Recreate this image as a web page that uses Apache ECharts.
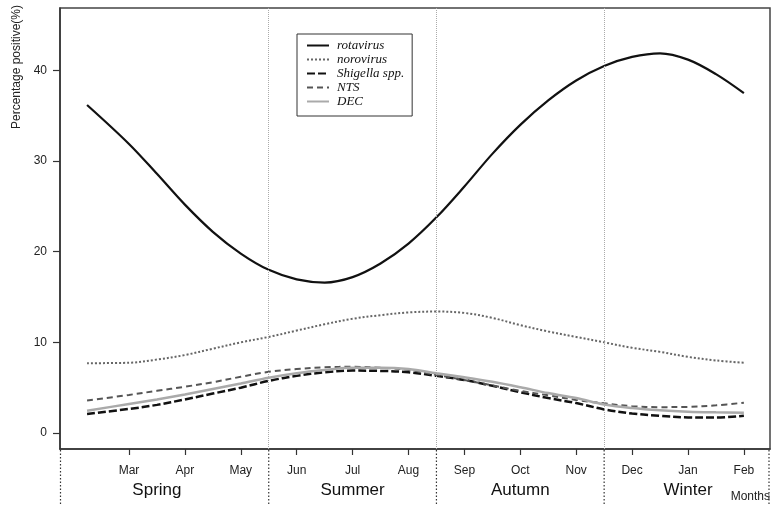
<!DOCTYPE html>
<html><head><meta charset="utf-8">
<script src="https://cdn.jsdelivr.net/npm/echarts@6/dist/echarts.min.js"></script>
<style>html,body{margin:0;padding:0;background:#fff}#c{width:771px;height:506px}</style>
</head><body><div id="c"></div><script>
const months = ['Mar','Apr','May','Jun','Jul','Aug','Sep','Oct','Nov','Dec','Jan','Feb'];
const monthTicks = [0,1,2,3,4,5,6,7,8,9,10,11];
const seasons = ['Spring','Summer','Autumn','Winter'];
const seasonCenters = [0.5,4,7,10];
const seasonBounds = [2.5,5.5,8.5];
const yTicks = [0,10,20,30,40];
const samplePos = [-0.75,0,0.5,1,1.5,2,2.5,3,3.5,4,4.5,5,5.5,6,6.5,7,7.5,8,8.5,9,9.5,10,10.5,11];
const rotavirus = [36.2,31.9,28.6,25.2,22.2,19.8,18.0,16.95,16.6,17.2,18.7,20.9,23.8,27.2,30.8,34.0,36.7,38.9,40.5,41.5,41.9,41.2,39.6,37.5];
const norovirus = [7.7,7.75,8.1,8.6,9.3,10.0,10.6,11.3,12.0,12.6,13.0,13.3,13.4,13.25,12.7,11.9,11.2,10.6,10.0,9.4,8.95,8.4,8.0,7.75];
const shigella = [2.1,2.65,3.1,3.7,4.35,5.0,5.75,6.3,6.7,6.88,6.85,6.7,6.3,5.85,5.2,4.5,3.85,3.3,2.6,2.15,1.9,1.72,1.7,1.9];
const nts = [3.57,4.2,4.65,5.1,5.6,6.2,6.75,7.05,7.25,7.3,7.2,6.95,6.4,5.85,5.25,4.65,4.15,3.65,3.27,2.95,2.85,2.88,3.05,3.34];
const dec = [2.45,3.2,3.7,4.25,4.85,5.45,6.1,6.6,6.95,7.2,7.2,7.05,6.6,6.15,5.65,5.05,4.4,3.85,3.15,2.75,2.5,2.35,2.28,2.24];

const X_MIN = -1.234, X_MAX = 11.467, Y_MIN = -1.77, Y_MAX = 46.9;
const pair = arr => samplePos.map((x,i)=>[x,arr[i]]);
const chart = echarts.init(document.getElementById('c'), null, {renderer:'canvas'});
const sans = 'Liberation Sans, Arial, sans-serif';
const base = {type:'line', showSymbol:false, symbol:'none', smooth:0.35, silent:true, z:3};
chart.setOption({
  animation:false,
  backgroundColor:'#fff',
  grid:{left:60, right:1, top:8, bottom:57, show:true, borderColor:'#444', borderWidth:1.5, containLabel:false},
  legend:{
    orient:'vertical', left:297, top:34, selectedMode:false,
    backgroundColor:'#fff', borderColor:'#333', borderWidth:1,
    padding:[5,8,8,9], itemWidth:22, itemHeight:12, itemGap:1,
    itemStyle:{color:'rgba(0,0,0,0)', borderWidth:0, opacity:0},
    textStyle:{fontFamily:'Liberation Serif, Times New Roman, serif', fontStyle:'italic', fontSize:13, color:'#111', padding:[0,0,0,3]},
    data:['rotavirus','norovirus','Shigella spp.','NTS','DEC']
  },
  xAxis:[{
    type:'value', min:X_MIN, max:X_MAX, position:'bottom',
    axisLine:{show:true, onZero:false, lineStyle:{color:'#333', width:1.5}},
    axisTick:{show:true, inside:false, length:6, customValues:monthTicks, lineStyle:{color:'#333', width:1.2}},
    axisLabel:{customValues:monthTicks, formatter:v=>months[Math.round(v)], margin:16, fontSize:12, fontFamily:sans, color:'#222'},
    splitLine:{show:false}
  },{
    type:'value', min:X_MIN, max:X_MAX, position:'bottom', gridIndex:0,
    axisLine:{show:false, onZero:false}, axisTick:{show:false}, splitLine:{show:false},
    axisLabel:{customValues:seasonCenters, formatter:v=>seasons[seasonCenters.indexOf(v)], margin:33, fontSize:17, fontFamily:sans, color:'#111'}
  }],
  yAxis:{
    type:'value', min:Y_MIN, max:Y_MAX,
    axisLine:{show:true, onZero:false, lineStyle:{color:'#333', width:1.5}},
    axisTick:{show:true, length:7, customValues:yTicks, lineStyle:{color:'#333', width:1.2}},
    axisLabel:{customValues:yTicks, margin:13, fontSize:12, fontFamily:sans, color:'#222'},
    splitLine:{show:false}
  },
  series:[
    Object.assign({}, base, {name:'rotavirus', data:pair(rotavirus), lineStyle:{color:'#111', width:2.2, type:'solid'}, itemStyle:{color:'#111'},
      markLine:{silent:true, symbol:'none', label:{show:false}, lineStyle:{color:'#aaa', type:'dotted', width:1}, data:seasonBounds.map(v=>({xAxis:v}))}}),
    Object.assign({}, base, {name:'norovirus', data:pair(norovirus), lineStyle:{color:'#666', width:2, type:[2,2]}, itemStyle:{color:'#666'}}),
    Object.assign({}, base, {name:'Shigella spp.', data:pair(shigella), lineStyle:{color:'#111', width:2.5, type:[8,3]}, itemStyle:{color:'#111'}}),
    Object.assign({}, base, {name:'NTS', data:pair(nts), lineStyle:{color:'#555', width:2, type:[6,4]}, itemStyle:{color:'#555'}}),
    Object.assign({}, base, {name:'DEC', data:pair(dec), lineStyle:{color:'#aaa', width:2.5, type:'solid'}, itemStyle:{color:'#aaa'}})
  ]
});
const bx = [X_MIN, ...seasonBounds, X_MAX].map(v=>chart.convertToPixel({xAxisIndex:0}, v));
bx[0] += 0.5; bx[bx.length-1] -= 1;
const y0 = chart.convertToPixel({yAxisIndex:0}, Y_MIN);
const graphics = bx.map(x=>({type:'line', silent:true, shape:{x1:x, y1:y0+1, x2:x, y2:506}, style:{stroke:'#333', lineWidth:1.2, lineDash:[1.5,2]}}));
graphics.push({type:'text', silent:true, x:bx[bx.length-1]+1, y:497, style:{text:'Months', fontSize:12, fontFamily:sans, fill:'#222', align:'right', verticalAlign:'middle'}});
graphics.push({type:'text', silent:true, x:17, y:67, rotation:Math.PI/2, style:{text:'Percentage positive(%)', fontSize:12, fontFamily:sans, fill:'#222', align:'center', verticalAlign:'middle'}});
chart.setOption({graphic:graphics});
</script></body></html>
